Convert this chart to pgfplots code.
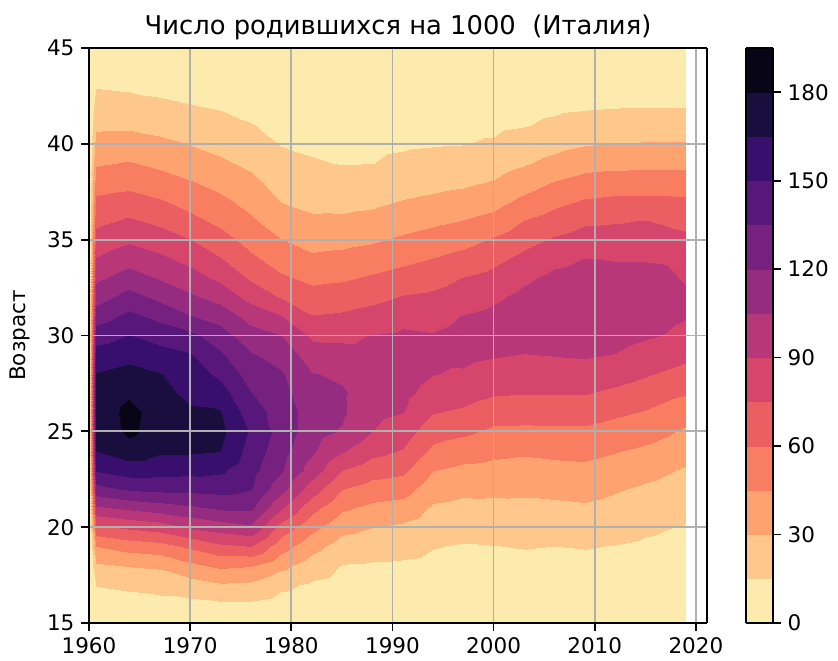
\documentclass[border=0pt]{standalone}
\usepackage{fontspec}
\setmainfont{DejaVu Sans}
\usepackage{pgfplots}
\pgfplotsset{compat=1.18}
\pgfkeys{/pgf/number format/assume math mode=true}
\definecolor{gridgray}{HTML}{B0B0B0}
\begin{document}
\begin{tikzpicture}
\path[use as bounding box] (-44.5pt,-18.5pt) rectangle (374.5pt,311.5pt);
\begin{axis}[
  scale only axis, width=309pt, height=287.5pt,
  view={0}{90},
  xmin=1960, xmax=2021.1, ymin=15, ymax=45,
  xtick={1960,1970,...,2020}, ytick={15,20,...,45},
  /pgf/number format/1000 sep={},
  /pgf/number format/assume math mode=true,
  grid=major, major grid style={gridgray, line width=0.85pt},
  axis on top,
  axis line style={line width=0.85pt},
  tick align=outside, major tick length=3.75pt,
  tick style={black, line width=0.85pt},
  xtick pos=left, ytick pos=left,
  tick label style={font=\fontsize{10.75}{12}\selectfont},
  title={Число родившихся на 1000\ \ (Италия)},
  title style={font=\fontsize{12.9}{15}\selectfont, at={(axis description cs:0.5,1)}, anchor=base, yshift=1pt},
  ylabel={Возраст},
  ylabel style={font=\fontsize{10.75}{12}\selectfont, at={(axis description cs:-0.1117,0.5)}, anchor=center},
  colormap={magmar}{
    rgb255(0)=(253,235,174) rgb255(15)=(254,200,140) rgb255(30)=(254,163,112)
    rgb255(45)=(249,126,97) rgb255(60)=(235,94,98) rgb255(75)=(213,69,108)
    rgb255(90)=(183,55,121) rgb255(105)=(150,44,127) rgb255(120)=(118,33,128)
    rgb255(135)=(87,23,123) rgb255(150)=(56,15,108) rgb255(165)=(26,14,63)
    rgb255(180)=(8,5,23) rgb255(195)=(8,5,23)
  },
  colormap access=piecewise constant,
  point meta min=0, point meta max=195,
  colorbar,
  colorbar style={
    at={(parent axis.north east)}, anchor=north west, xshift=11pt,
    scale only axis, width=13.5pt, height=287.5pt,
    ytick={0,30,...,180},
    ytick pos=right, yticklabel pos=right,
    tick align=outside, major tick length=3.75pt,
    tick style={black, line width=0.85pt},
    axis line style={line width=0.85pt},
    yticklabel style={font=\fontsize{10.75}{12}\selectfont, xshift=0pt},
    /pgf/number format/assume math mode=true,
  },
]
\addplot3[surf, shader=interp, mesh/cols=22, point meta=z] coordinates {
(1960,15,0) (1960.7,15,4) (1964,15,4) (1967,15,4) (1970,15,4) (1973,15,3) (1976,15,3) (1979,15,3) (1982,15,2) (1985,15,1.5) (1988,15,1.5) (1991,15,1.5) (1994,15,1.5) (1997,15,1.5) (2000,15,1) (2003,15,1) (2006,15,1) (2009,15,1) (2012,15,1) (2015,15,1) (2017,15,1) (2019,15,1)
(1960,16,0) (1960.7,16,9.5) (1964,16,10.1) (1967,16,10.9) (1970,16,11.3) (1973,16,13) (1976,16,13) (1979,16,9.7) (1982,16,7.4) (1985,16,5.7) (1988,16,5.5) (1991,16,5.4) (1994,16,5) (1997,16,4.6) (2000,16,4.5) (2003,16,4.6) (2006,16,4.5) (2009,16,4.6) (2012,16,4.4) (2015,16,4) (2017,16,3.9) (2019,16,3.6)
(1960,17,0) (1960.7,17,15.5) (1964,17,17.5) (1967,17,19.6) (1970,17,23.3) (1973,17,28.3) (1976,17,27) (1979,17,18) (1982,17,12.8) (1985,17,9.9) (1988,17,9.4) (1991,17,9.2) (1994,17,8.4) (1997,17,7.8) (2000,17,7.9) (2003,17,8.2) (2006,17,8) (2009,17,8.2) (2012,17,7.8) (2015,17,7.1) (2017,17,6.7) (2019,17,6.3)
(1960,18,0) (1960.7,18,27.5) (1964,18,30.5) (1967,18,32.1) (1970,18,41.3) (1973,18,47.5) (1976,18,45.5) (1979,18,33.8) (1982,18,22.5) (1985,18,14.2) (1988,18,13.4) (1991,18,13.1) (1994,18,11.9) (1997,18,10.9) (2000,18,11.4) (2003,18,11.8) (2006,18,11.5) (2009,18,11.8) (2012,18,11.2) (2015,18,10.1) (2017,18,9.6) (2019,18,8.9)
(1960,19,0) (1960.7,19,45.5) (1964,19,51.9) (1967,19,55) (1970,19,63) (1973,19,72.5) (1976,19,75.5) (1979,19,51.7) (1982,19,35.5) (1985,19,23.6) (1988,19,20.6) (1991,19,19.2) (1994,19,15.6) (1997,19,14.1) (2000,19,14.8) (2003,19,15.6) (2006,19,15) (2009,19,15.6) (2012,19,14.7) (2015,19,13.2) (2017,19,12.4) (2019,19,11.6)
(1960,20,0) (1960.7,20,72) (1964,20,78) (1967,20,82.5) (1970,20,92.1) (1973,20,97.5) (1976,20,102.5) (1979,20,69.4) (1982,20,49.5) (1985,20,35) (1988,20,30.5) (1991,20,27.5) (1994,20,21.9) (1997,20,19.6) (2000,20,20.6) (2003,20,21.1) (2006,20,21) (2009,20,21.9) (2012,20,20) (2015,20,17.1) (2017,20,15.5) (2019,20,14.2)
(1960,21,0) (1960.7,21,102) (1964,21,108) (1967,21,112.5) (1970,21,117) (1973,21,122.1) (1976,21,123) (1979,21,91.9) (1982,21,65) (1985,21,47.5) (1988,21,41.5) (1991,21,38.8) (1994,21,28.1) (1997,21,26.1) (2000,21,26.5) (2003,21,26.7) (2006,21,27) (2009,21,28.1) (2012,21,25.6) (2015,21,22.5) (2017,21,20.7) (2019,21,18.5)
(1960,22,0) (1960.7,22,130) (1964,22,137.1) (1967,22,138.8) (1970,22,138.3) (1973,22,140) (1976,22,135.8) (1979,22,110.6) (1982,22,82.5) (1985,22,60.5) (1988,22,53.8) (1991,22,51.3) (1994,22,36.2) (1997,22,33.3) (2000,22,33) (2003,22,32.7) (2006,22,33.6) (2009,22,34.8) (2012,22,31.4) (2015,22,27.9) (2017,22,25.9) (2019,22,23.5)
(1960,23,0) (1960.7,23,151.5) (1964,23,157.5) (1967,23,156) (1970,23,155) (1973,23,152.7) (1976,23,139.9) (1979,23,121.8) (1982,23,98.2) (1985,23,75.5) (1988,23,66.8) (1991,23,63.2) (1994,23,45.5) (1997,23,41.7) (2000,23,40.5) (2003,23,39.5) (2006,23,40.7) (2009,23,41.6) (2012,23,38.6) (2015,23,34.7) (2017,23,31.6) (2019,23,28.5)
(1960,24,0) (1960.7,24,165.3) (1964,24,173.2) (1967,24,166.9) (1970,24,167) (1973,24,165.4) (1976,24,143.9) (1979,24,125.5) (1982,24,107.3) (1985,24,91.3) (1988,24,79.6) (1991,24,73.9) (1994,24,56.5) (1997,24,51.9) (2000,24,48.5) (2003,24,47) (2006,24,48.5) (2009,24,49.2) (2012,24,45.8) (2015,24,42.6) (2017,24,39.5) (2019,24,35.3)
(1960,25,0) (1960.7,25,168.4) (1964,25,183.6) (1967,25,171.6) (1970,25,172) (1973,25,169) (1976,25,148) (1979,25,129.2) (1982,25,111.8) (1985,25,103.8) (1988,25,90.4) (1991,25,82.5) (1994,25,66.6) (1997,25,63) (2000,25,57.4) (2003,25,57) (2006,25,57.4) (2009,25,57.5) (2012,25,54.2) (2015,25,50.8) (2017,25,47.4) (2019,25,42.8)
(1960,26,0) (1960.7,26,169.1) (1964,26,185.1) (1967,26,172.2) (1970,26,166.6) (1973,26,165.9) (1976,26,141.5) (1979,26,129.1) (1982,26,112.3) (1985,26,107.1) (1988,26,94.2) (1991,26,90.4) (1994,26,75.8) (1997,26,73) (2000,26,67) (2003,26,66.2) (2006,26,66.2) (2009,26,66.6) (2012,26,62.8) (2015,26,59.2) (2017,26,55.3) (2019,26,51.6)
(1960,27,0) (1960.7,27,167.3) (1964,27,177.6) (1967,27,168.6) (1970,27,162.1) (1973,27,156.9) (1976,27,135.5) (1979,27,125.3) (1982,27,109) (1985,27,106.6) (1988,27,98.1) (1991,27,94.3) (1994,27,83.7) (1997,27,81) (2000,27,76.5) (2003,27,75.5) (2006,27,75.5) (2009,27,75.8) (2012,27,72.2) (2015,27,67.9) (2017,27,63.8) (2019,27,60.9)
(1960,28,0) (1960.7,28,165.5) (1964,28,169.7) (1967,28,165.5) (1970,28,158) (1973,28,146.5) (1976,28,128.2) (1979,28,121.5) (1982,28,105.7) (1985,28,102.8) (1988,28,98.1) (1991,28,98.2) (1994,28,90.4) (1997,28,88.5) (2000,28,84) (2003,28,82.3) (2006,28,82.5) (2009,28,84.2) (2012,28,81) (2015,28,76.6) (2017,28,73.1) (2019,28,70.3)
(1960,29,0) (1960.7,29,156.9) (1964,29,161) (1967,29,155.6) (1970,29,151.3) (1973,29,137.6) (1976,29,121.4) (1979,29,114.4) (1982,29,97.5) (1985,29,95.3) (1988,29,94.4) (1991,29,96) (1994,29,92.6) (1997,29,93.4) (2000,29,91.1) (2003,29,89.6) (2006,29,90.5) (2009,29,91.5) (2012,29,89.6) (2015,29,84.7) (2017,29,81.3) (2019,29,78.4)
(1960,30,0) (1960.7,30,143.3) (1964,30,151) (1967,30,144.5) (1970,30,139.1) (1973,30,126.9) (1976,30,111.4) (1979,30,105.5) (1982,30,87.5) (1985,30,87) (1988,30,90.7) (1991,30,92.3) (1994,30,91) (1997,30,94.3) (2000,30,96.9) (2003,30,95.4) (2006,30,95.9) (2009,30,96.5) (2012,30,95) (2015,30,91.6) (2017,30,89.2) (2019,30,85.2)
(1960,31,0) (1960.7,31,127.5) (1964,31,138.8) (1967,31,130.5) (1970,31,120.5) (1973,31,114) (1976,31,99) (1979,31,90.5) (1982,31,75.5) (1985,31,77) (1988,31,80.8) (1991,31,86) (1994,31,85.5) (1997,31,90.5) (2000,31,93.7) (2003,31,98.9) (2006,31,101.8) (2009,31,101.5) (2012,31,100.3) (2015,31,96.3) (2017,31,93.8) (2019,31,91.2)
(1960,32,0) (1960.7,32,113.8) (1964,32,125.5) (1967,32,116.3) (1970,32,107.5) (1973,32,99.5) (1976,32,85) (1979,32,73.8) (1982,32,65.6) (1985,32,67.5) (1988,32,70.6) (1991,32,76) (1994,32,78) (1997,32,82.5) (2000,32,87.6) (2003,32,93.7) (2006,32,98.7) (2009,32,101.2) (2012,32,100.3) (2015,32,99) (2017,32,98) (2019,32,92.7)
(1960,33,0) (1960.7,33,101.8) (1964,33,111.8) (1967,33,103.9) (1970,33,96.4) (1973,33,86.8) (1976,33,73) (1979,33,62.3) (1982,33,56.5) (1985,33,58.2) (1988,33,61.8) (1991,33,66) (1994,33,69.4) (1997,33,75.5) (2000,33,79.7) (2003,33,87.5) (2006,33,93.3) (2009,33,95.6) (2012,33,94.9) (2015,33,94.3) (2017,33,93.6) (2019,33,88)
(1960,34,0) (1960.7,34,91.1) (1964,34,99.2) (1967,34,93.2) (1970,34,85.7) (1973,34,76.1) (1976,34,63) (1979,34,53.3) (1982,34,47.6) (1985,34,49.4) (1988,34,52.5) (1991,34,56.5) (1994,34,60.5) (1997,34,65) (2000,34,71.3) (2003,34,79.2) (2006,34,86.3) (2009,34,90.5) (2012,34,89.3) (2015,34,89.3) (2017,34,88.5) (2019,34,83)
(1960,35,0) (1960.7,35,81) (1964,35,87.9) (1967,35,82.5) (1970,35,75.5) (1973,35,66) (1976,35,54.8) (1979,35,45.5) (1982,35,39.8) (1985,35,40.8) (1988,35,43.2) (1991,35,47.6) (1994,35,51.2) (1997,35,55) (2000,35,61.9) (2003,35,70) (2006,35,76.9) (2009,35,81.7) (2012,35,81.8) (2015,35,82.1) (2017,35,81) (2019,35,78)
(1960,36,0) (1960.7,36,71.5) (1964,36,77.1) (1967,36,71.8) (1970,36,64.3) (1973,36,56.7) (1976,36,47.3) (1979,36,37.1) (1982,36,32.3) (1985,36,32.5) (1988,36,34.4) (1991,36,38.8) (1994,36,42.2) (1997,36,45.5) (2000,36,50) (2003,36,60.5) (2006,36,66.4) (2009,36,72.7) (2012,36,73.9) (2015,36,75.5) (2017,36,73) (2019,36,71.5)
(1960,37,0) (1960.7,37,62.6) (1964,37,65.8) (1967,37,61.1) (1970,37,54.7) (1973,37,48.3) (1976,37,40.2) (1979,37,29.5) (1982,37,26.4) (1985,37,25.8) (1988,37,26.9) (1991,37,30.5) (1994,37,32.8) (1997,37,35.6) (2000,37,39.7) (2003,37,48.5) (2006,37,55.7) (2009,37,61.2) (2012,37,63.2) (2015,37,63.5) (2017,37,63) (2019,37,62.6)
(1960,38,0) (1960.7,38,53) (1964,38,55.3) (1967,38,51) (1970,38,45.9) (1973,38,40.3) (1976,38,33.4) (1979,38,24.3) (1982,38,21.2) (1985,38,19.8) (1988,38,20.6) (1991,38,23.8) (1994,38,25.6) (1997,38,27.4) (2000,38,30.9) (2003,38,38) (2006,38,45.5) (2009,38,50.4) (2012,38,51.9) (2015,38,52.2) (2017,38,51.9) (2019,38,51.9)
(1960,39,0) (1960.7,39,43.3) (1964,39,45.9) (1967,39,41.7) (1970,39,37.7) (1973,39,32.4) (1976,39,27) (1979,39,19.1) (1982,39,16) (1985,39,14.5) (1988,39,14.8) (1991,39,17.5) (1994,39,19.4) (1997,39,20.9) (2000,39,23.6) (2003,39,28.5) (2006,39,34.3) (2009,39,39.6) (2012,39,40.7) (2015,39,41.4) (2017,39,41) (2019,39,41)
(1960,40,0) (1960.7,40,35) (1964,40,36.6) (1967,40,33.3) (1970,40,29.6) (1973,40,25.6) (1976,40,21) (1979,40,14.5) (1982,40,13.1) (1985,40,12.3) (1988,40,12.5) (1991,40,13.5) (1994,40,14.2) (1997,40,14.7) (2000,40,16.4) (2003,40,21) (2006,40,25.3) (2009,40,29.1) (2012,40,30.5) (2015,40,31) (2017,40,31) (2019,40,31)
(1960,41,0) (1960.7,41,27.3) (1964,41,27.6) (1967,41,25.3) (1970,41,22.3) (1973,41,19.4) (1976,41,15.5) (1979,41,12) (1982,41,10.7) (1985,41,10) (1988,41,10.2) (1991,41,11) (1994,41,11.6) (1997,41,12) (2000,41,12.7) (2003,41,14.3) (2006,41,17.4) (2009,41,20.3) (2012,41,21.7) (2015,41,22.5) (2017,41,22.5) (2019,41,22.5)
(1960,42,0) (1960.7,42,20.7) (1964,42,19.7) (1967,42,17.4) (1970,42,15.5) (1973,42,13.8) (1976,42,11.8) (1979,42,9.5) (1982,42,8.2) (1985,42,7.8) (1988,42,7.9) (1991,42,8.5) (1994,42,8.9) (1997,42,9.2) (2000,42,9.8) (2003,42,11) (2006,42,12.4) (2009,42,13.4) (2012,42,14.1) (2015,42,14.5) (2017,42,14.5) (2019,42,14.5)
(1960,43,0) (1960.7,43,14.2) (1964,43,13) (1967,43,11.9) (1970,43,11) (1973,43,9.9) (1976,43,8.5) (1979,43,7) (1982,43,5.8) (1985,43,5.5) (1988,43,5.6) (1991,43,6) (1994,43,6.3) (1997,43,6.5) (2000,43,6.8) (2003,43,7.7) (2006,43,8.6) (2009,43,9.2) (2012,43,9.8) (2015,43,10) (2017,43,10) (2019,43,10)
(1960,44,0) (1960.7,44,8.6) (1964,44,8) (1967,44,7.4) (1970,44,7) (1973,44,5.9) (1976,44,5.3) (1979,44,4.5) (1982,44,3.4) (1985,44,3.3) (1988,44,3.3) (1991,44,3.5) (1994,44,3.6) (1997,44,3.7) (2000,44,3.9) (2003,44,4.3) (2006,44,4.8) (2009,44,5.1) (2012,44,5.4) (2015,44,5.5) (2017,44,5.5) (2019,44,5.5)
(1960,45,0) (1960.7,45,3) (1964,45,3) (1967,45,3) (1970,45,3) (1973,45,2) (1976,45,2) (1979,45,2) (1982,45,1) (1985,45,1) (1988,45,1) (1991,45,1) (1994,45,1) (1997,45,1) (2000,45,1) (2003,45,1) (2006,45,1) (2009,45,1) (2012,45,1) (2015,45,1) (2017,45,1) (2019,45,1)
};
\end{axis}
\end{tikzpicture}
\end{document}
